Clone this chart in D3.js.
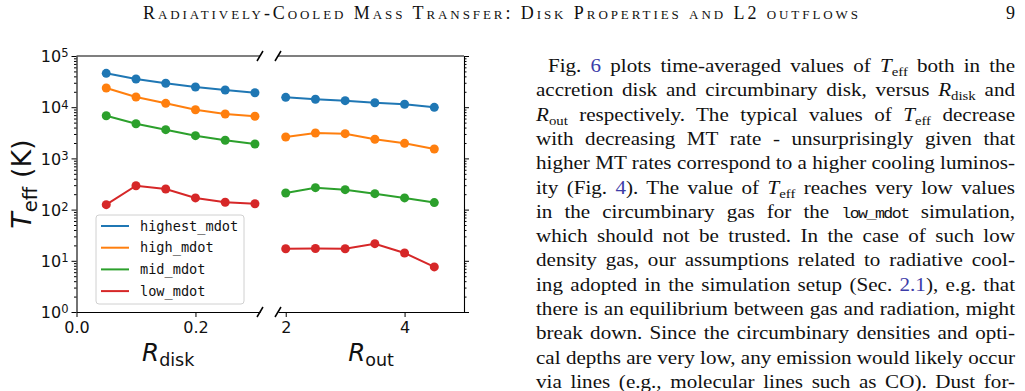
<!DOCTYPE html>
<html>
<head>
<meta charset="utf-8">
<script src="https://cdn.jsdelivr.net/npm/d3@7"></script>
<style>
  body { margin: 0; background: #fff; }
  svg { display: block; }
</style>
</head>
<body>
<script>
// x positions of the two panels
const rDisk = [0.05, 0.1, 0.15, 0.2, 0.25, 0.3];
const rOut = [2, 2.5, 3, 3.5, 4, 4.5];

// T_eff (K), accretion disk (left) and circumbinary (right)
const highestDisk = [45900, 35600, 29300, 24800, 21700, 19200];
const highDisk = [23700, 15800, 11900, 8930, 7360, 6640];
const midDisk = [6820, 4760, 3640, 2780, 2260, 1910];
const lowDisk = [125, 293, 252, 169, 139, 130];

const highestOut = [15600, 14300, 13400, 12200, 11400, 9950];
const highOut = [2620, 3130, 3040, 2360, 1970, 1530];
const midOut = [211, 268, 245, 205, 169, 137];
const lowOut = [17.2, 17.4, 17.2, 21.6, 14.2, 7.6];

const seriesNames = ["highest_mdot", "high_mdot", "mid_mdot", "low_mdot"];
const seriesColors = ["#1f77b4", "#ff7f0e", "#2ca02c", "#d62728"];

const yTicks = [1, 10, 100, 1000, 10000, 100000];
const xTicksDisk = [0, 0.2];
const xTicksOut = [2, 4];

const series = seriesNames.map((name, i) => ({
  name,
  color: seriesColors[i],
  disk: [highestDisk, highDisk, midDisk, lowDisk][i],
  out: [highestOut, highOut, midOut, lowOut][i]
}));

const W = 1025, H = 391;
const plotTop = 56, plotBottom = 312;

const svg = d3.select("body").append("svg")
  .attr("width", W)
  .attr("height", H);

const xL = d3.scaleLinear().domain([0, 0.3085]).range([76.5, 260]);
const xR = d3.scaleLinear().domain([1.87, 5.0]).range([278, 464]);
const y = d3.scaleLog().domain([1, 1e5]).range([plotBottom, plotTop]);

// minor log ticks
const minor = [];
for (let e = 0; e < 5; e++) for (let m = 2; m <= 9; m++) minor.push(m * Math.pow(10, e));

const tickFont = "'DejaVu Sans', sans-serif";

function styleAxis(g) {
  g.selectAll("path.domain").attr("stroke", "#000").attr("stroke-width", 1.1);
  g.selectAll(".tick line").attr("stroke", "#000").attr("stroke-width", 1);
  g.selectAll(".tick text").attr("font-family", tickFont).attr("font-size", 16).attr("fill", "#111");
}

// left y axis (major + minor)
const gyL = svg.append("g").attr("transform", `translate(${xL.range()[0]},0)`)
  .call(d3.axisLeft(y).tickValues(yTicks).tickSize(5).tickSizeOuter(0).tickPadding(3).tickFormat(""));
gyL.selectAll(".tick text").each(function(d) {
  const t = d3.select(this).text(null).attr("dy", "0.36em");
  t.append("tspan").text("10");
  t.append("tspan").attr("dy", "-0.42em").attr("font-size", "0.72em").text(Math.round(Math.log10(d)));
});
styleAxis(gyL);
svg.append("g").attr("transform", `translate(${xL.range()[0]},0)`)
  .call(d3.axisLeft(y).tickValues(minor).tickSize(2.5).tickSizeOuter(0).tickFormat(""))
  .call(g => g.select(".domain").remove())
  .call(styleAxis);

// right y axis, ticks only
const gyR = svg.append("g").attr("transform", `translate(${xR.range()[1]},0)`)
  .call(d3.axisRight(y).tickValues(yTicks).tickSize(5).tickSizeOuter(0).tickFormat(""));
styleAxis(gyR);
svg.append("g").attr("transform", `translate(${xR.range()[1]},0)`)
  .call(d3.axisRight(y).tickValues(minor).tickSize(2.5).tickSizeOuter(0).tickFormat(""))
  .call(g => g.select(".domain").remove())
  .call(styleAxis);

// bottom axes
svg.append("g").attr("transform", `translate(0,${plotBottom})`)
  .call(d3.axisBottom(xL).tickValues(xTicksDisk).tickSize(5).tickSizeOuter(0).tickPadding(5).tickFormat(d3.format(".1f")))
  .call(styleAxis);
svg.append("g").attr("transform", `translate(0,${plotBottom})`)
  .call(d3.axisBottom(xR).tickValues(xTicksOut).tickSize(5).tickSizeOuter(0).tickPadding(5).tickFormat(d3.format("d")))
  .call(styleAxis);

// top spines
svg.append("line").attr("x1", xL.range()[0]).attr("x2", xL.range()[1]).attr("y1", plotTop).attr("y2", plotTop)
  .attr("stroke", "#000").attr("stroke-width", 1.1);
svg.append("line").attr("x1", xR.range()[0]).attr("x2", xR.range()[1]).attr("y1", plotTop).attr("y2", plotTop)
  .attr("stroke", "#000").attr("stroke-width", 1.1);

// break marks
[xL.range()[1], xR.range()[0]].forEach(bx => {
  [plotTop, plotBottom].forEach(by => {
    svg.append("line")
      .attr("x1", bx - 3).attr("y1", by + 5)
      .attr("x2", bx + 3).attr("y2", by - 5)
      .attr("stroke", "#000").attr("stroke-width", 1.5);
  });
});

// lines + markers
const lineL = d3.line().x((d, i) => xL(rDisk[i])).y(d => y(d));
const lineR = d3.line().x((d, i) => xR(rOut[i])).y(d => y(d));

series.forEach(s => {
  svg.append("path").attr("d", lineL(s.disk)).attr("fill", "none")
    .attr("stroke", s.color).attr("stroke-width", 2);
  svg.append("path").attr("d", lineR(s.out)).attr("fill", "none")
    .attr("stroke", s.color).attr("stroke-width", 2);
  svg.selectAll(null).data(s.disk).enter().append("circle")
    .attr("cx", (d, i) => xL(rDisk[i])).attr("cy", d => y(d)).attr("r", 4.5).attr("fill", s.color);
  svg.selectAll(null).data(s.out).enter().append("circle")
    .attr("cx", (d, i) => xR(rOut[i])).attr("cy", d => y(d)).attr("r", 4.5).attr("fill", s.color);
});

// legend
const leg = svg.append("g").attr("transform", "translate(96,215)");
leg.append("rect").attr("width", 148).attr("height", 89).attr("rx", 3)
  .attr("fill", "#fff").attr("fill-opacity", 0.85).attr("stroke", "#d0d0d0");
series.forEach((s, i) => {
  const ly = 11 + i * 21.7;
  leg.append("line").attr("x1", 5).attr("x2", 33).attr("y1", ly).attr("y2", ly)
    .attr("stroke", s.color).attr("stroke-width", 2);
  leg.append("text").attr("x", 44).attr("y", ly).attr("dy", "0.35em")
    .attr("font-family", "'DejaVu Sans Mono', monospace").attr("font-size", 13.6)
    .attr("fill", "#111").text(s.name);
});

// axis labels
const labelFont = "'DejaVu Sans', sans-serif";
const yl = svg.append("text").attr("transform", `translate(31,${(plotTop + plotBottom) / 2}) rotate(-90)`)
  .attr("text-anchor", "middle").attr("font-family", labelFont).attr("font-size", 27).attr("fill", "#111");
yl.append("tspan").attr("font-style", "italic").text("T");
yl.append("tspan").attr("font-size", 19.5).attr("dy", 5.5).text("eff");
yl.append("tspan").attr("dy", -5.5).text(" (K)");

function xLabel(cx, sub) {
  const t = svg.append("text").attr("x", cx).attr("y", 361).attr("text-anchor", "middle")
    .attr("font-family", labelFont).attr("font-size", 24.5).attr("fill", "#111");
  t.append("tspan").attr("font-style", "italic").text("R");
  t.append("tspan").attr("font-size", 17.5).attr("dy", 5).text(sub);
}
xLabel((xL.range()[0] + xL.range()[1]) / 2, "disk");
xLabel((xR.range()[0] + xR.range()[1]) / 2, "out");

// running header
const serif = "'Liberation Serif', 'Times New Roman', serif";
svg.append("text").attr("x", 143).attr("y", 19)
  .attr("font-family", serif).attr("font-size", 18).attr("font-variant", "small-caps")
  .attr("textLength", 715).attr("lengthAdjust", "spacing").attr("fill", "#111")
  .text("Radiatively-Cooled Mass Transfer: Disk Properties and L2 outflows");
svg.append("text").attr("x", 1015).attr("y", 19).attr("text-anchor", "end")
  .attr("font-family", serif).attr("font-size", 18).attr("fill", "#111").text("9");

// body text, justified line by line
const paragraph = [
  [["n", "Fig. "], ["l", "6"], ["n", " plots time-averaged values of "], ["v", "T", "eff"], ["n", " both in the"]],
  [["n", "accretion disk and circumbinary disk, versus "], ["v", "R", "disk"], ["n", " and"]],
  [["v", "R", "out"], ["n", " respectively. The typical values of "], ["v", "T", "eff"], ["n", " decrease"]],
  [["n", "with decreasing MT rate - unsurprisingly given that"]],
  [["n", "higher MT rates correspond to a higher cooling luminos-"]],
  [["n", "ity (Fig. "], ["l", "4"], ["n", "). The value of "], ["v", "T", "eff"], ["n", " reaches very low values"]],
  [["n", "in the circumbinary gas for the "], ["t", "low_mdot"], ["n", " simulation,"]],
  [["n", "which should not be trusted. In the case of such low"]],
  [["n", "density gas, our assumptions related to radiative cool-"]],
  [["n", "ing adopted in the simulation setup (Sec. "], ["l", "2.1"], ["n", "), e.g. that"]],
  [["n", "there is an equilibrium between gas and radiation, might"]],
  [["n", "break down. Since the circumbinary densities and opti-"]],
  [["n", "cal depths are very low, any emission would likely occur"]],
  [["n", "via lines (e.g., molecular lines such as CO). Dust for-"]]
];

const textLeft = 536, textRight = 1015, firstIndent = 12;
const lineY0 = 72, lineStep = 24.3;
const stretch = 1.14; // Computer Modern runs wider than Times

paragraph.forEach((segs, li) => {
  const x0 = textLeft + (li === 0 ? firstIndent : 0);
  const t = svg.append("text")
    .attr("transform", `translate(${x0},${lineY0 + li * lineStep}) scale(${stretch},1)`)
    .attr("font-family", serif).attr("font-size", 18.5).attr("fill", "#111");
  let pendingDy = 0;
  segs.forEach(s => {
    if (s[0] === "v") {
      t.append("tspan").attr("font-style", "italic").attr("dy", pendingDy).text(s[1]);
      t.append("tspan").attr("font-size", 13).attr("dy", 4).text(s[2]);
      pendingDy = -4;
    } else {
      const sp = t.append("tspan").attr("dy", pendingDy).text(s[1]);
      pendingDy = 0;
      if (s[0] === "l") sp.attr("fill", "#3c3ca8");
      if (s[0] === "t") sp.attr("font-family", "'Liberation Mono', monospace")
        .attr("font-size", 14.5).attr("letter-spacing", -1.3);
    }
  });
  const natural = t.node().getComputedTextLength();
  const spaces = (t.text().match(/ /g) || []).length;
  const target = (textRight - x0) / stretch;
  if (spaces > 0) t.attr("word-spacing", Math.max(-1.5, (target - natural) / spaces));
});
</script>
</body>
</html>
